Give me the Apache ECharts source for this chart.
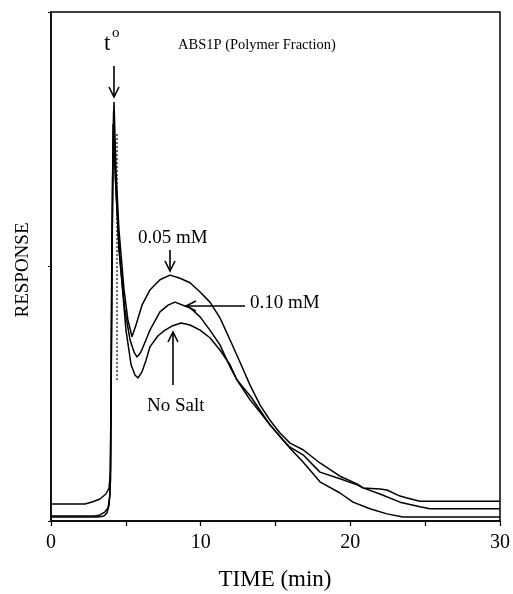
<!DOCTYPE html>
<html><head><meta charset="utf-8">
<script src="https://cdn.jsdelivr.net/npm/echarts@6/dist/echarts.min.js"></script>
<style>html,body{margin:0;padding:0;background:#fff}#c{width:513px;height:594px}</style>
</head><body><div id="c"></div>
<script>
// Data (time in min, response in arbitrary units 0-100)
var seriesNames = ['0.05 mM', '0.10 mM', 'No Salt'];
var xTicks = [0, 10, 20, 30];
var salt005 = [[0,3.34],[2.27,3.34],[2.74,3.73],[3.27,4.32],[3.67,5.30],[3.88,6.48],[3.98,10.0],[4.04,43.4],[4.11,67.0],[4.21,82.3],[4.34,69.0],[4.54,57.2],[4.88,45.4],[5.14,39.5],[5.41,36.2],[5.68,38.5],[6.08,42.4],[6.61,45.4],[7.28,47.4],[7.95,48.3],[8.62,47.7],[9.29,46.8],[9.96,45.0],[10.62,43.0],[11.29,39.9],[11.96,35.6],[12.63,31.2],[13.30,26.7],[13.96,22.8],[14.63,19.8],[15.30,17.3],[15.97,15.3],[16.84,14.0],[17.97,11.4],[19.31,8.8],[20.45,7.3],[20.85,6.5],[21.98,6.3],[22.45,6.1],[23.32,4.9],[23.79,4.5],[24.65,3.9],[30,3.9]];
var salt010 = [[0,1.0],[2.94,1.0],[3.27,1.2],[3.61,1.8],[3.81,2.6],[3.94,5.1],[4.01,23.8],[4.08,53.2],[4.18,80.5],[4.31,67.0],[4.54,53.2],[4.94,41.5],[5.28,35.6],[5.55,33.2],[5.75,32.2],[6.01,33.2],[6.35,35.6],[6.61,37.5],[7.28,41.1],[7.82,42.4],[8.28,43.0],[8.82,42.4],[9.29,41.9],[9.96,40.1],[10.62,37.5],[11.29,34.6],[11.96,30.3],[12.43,27.7],[13.30,23.8],[13.96,21.4],[14.63,18.9],[15.50,15.9],[15.97,14.5],[16.84,13.0],[17.97,9.6],[19.31,8.3],[20.45,7.1],[20.85,6.5],[21.98,5.3],[23.32,3.7],[24.65,2.8],[25.32,2.4],[30,2.4]];
var noSalt = [[0,0.8],[3.14,0.8],[3.54,1.0],[3.74,1.6],[3.88,3.1],[3.98,8.1],[4.04,33.6],[4.11,63.1],[4.15,78.0],[4.34,65.0],[4.61,51.3],[5.01,37.5],[5.35,30.7],[5.61,28.7],[5.81,28.1],[6.08,29.3],[6.35,31.6],[6.61,34.2],[7.15,36.4],[7.62,37.5],[8.08,38.3],[8.69,38.9],[9.29,38.5],[9.96,37.5],[10.62,36.0],[11.29,33.6],[11.96,30.7],[12.43,27.7],[13.30,24.6],[13.96,21.8],[14.63,18.9],[15.50,15.9],[15.97,14.3],[16.84,11.6],[17.97,7.7],[19.31,5.5],[20.18,3.7],[21.31,2.4],[22.45,1.4],[23.52,0.8],[30,0.8]];
var t0Line = [[4.41,76],[4.41,27.3]];

var serif = 'Liberation Serif, Times New Roman, serif';
var chart = echarts.init(document.getElementById('c'), null, {renderer:'canvas'});
function curve(name, data){
  return {name:name, type:'line', data:data, showSymbol:false, symbol:'none', smooth:false,
    lineStyle:{color:'#000', width:1.5}, silent:true, animation:false};
}
function arrow(x1,y1,x2,y2){
  var dx=x2-x1, dy=y2-y1, L=Math.sqrt(dx*dx+dy*dy), ux=dx/L, uy=dy/L, h=10, w=5;
  return [
    {type:'line', shape:{x1:x1,y1:y1,x2:x2,y2:y2}, style:{stroke:'#000', lineWidth:1.6}},
    {type:'polyline', shape:{points:[[x2-ux*h-uy*w, y2-uy*h+ux*w],[x2,y2],[x2-ux*h+uy*w, y2-uy*h-ux*w]]}, style:{stroke:'#000', fill:null, lineWidth:1.6}}
  ];
}
var g = [];
g = g.concat(arrow(114,66,114,97));
g = g.concat(arrow(170,250,170,271));
g = g.concat(arrow(245,306,186,306));
g = g.concat(arrow(173,385,173,332));
function txt(x,y,s,size,align){
  return {type:'text', x:x, y:y, style:{text:s, fill:'#000', font:size+'px '+serif, textAlign:align||'left', textVerticalAlign:'middle'}};
}
g.push(txt(104,44,'t',23));
g.push(txt(112,33,'o',15));
g.push(txt(178,45,'ABS1P (Polymer Fraction)',14.5));
g.push(txt(138,238,seriesNames[0],19));
g.push(txt(250,303,seriesNames[1],19));
g.push(txt(147,406,seriesNames[2],19));
g.push(txt(275,580,'TIME (min)',23,'center'));
g.push({type:'text', x:23, y:270, rotation:Math.PI/2, style:{text:'RESPONSE', fill:'#000', font:'19px '+serif, textAlign:'center', textVerticalAlign:'middle'}});

chart.setOption({
  animation:false,
  backgroundColor:'#fff',
  grid:{left:51, right:13, top:12, bottom:73, show:true, borderColor:'#000', borderWidth:1.5, backgroundColor:'transparent'},
  xAxis:{type:'value', min:0, max:30, interval:5,
    axisLine:{show:true, lineStyle:{color:'#000', width:1.5}},
    axisTick:{show:true, length:5, lineStyle:{color:'#000', width:1.3}},
    axisLabel:{color:'#000', fontFamily:serif, fontSize:20, margin:12,
      formatter:function(v){ return xTicks.indexOf(v)>=0 ? String(v) : ''; }},
    splitLine:{show:false}},
  yAxis:{type:'value', min:0, max:100, interval:50,
    axisLine:{show:true, lineStyle:{color:'#000', width:1.5}},
    axisTick:{show:true, length:3, lineStyle:{color:'#000'}},
    axisLabel:{show:false}, splitLine:{show:false}},
  series:[
    curve(seriesNames[0], salt005),
    curve(seriesNames[1], salt010),
    curve(seriesNames[2], noSalt),
    {type:'line', data:t0Line, showSymbol:false, symbol:'none', lineStyle:{color:'#000', width:1.2, type:[2,2]}, silent:true}
  ],
  graphic:g
});
</script></body></html>
